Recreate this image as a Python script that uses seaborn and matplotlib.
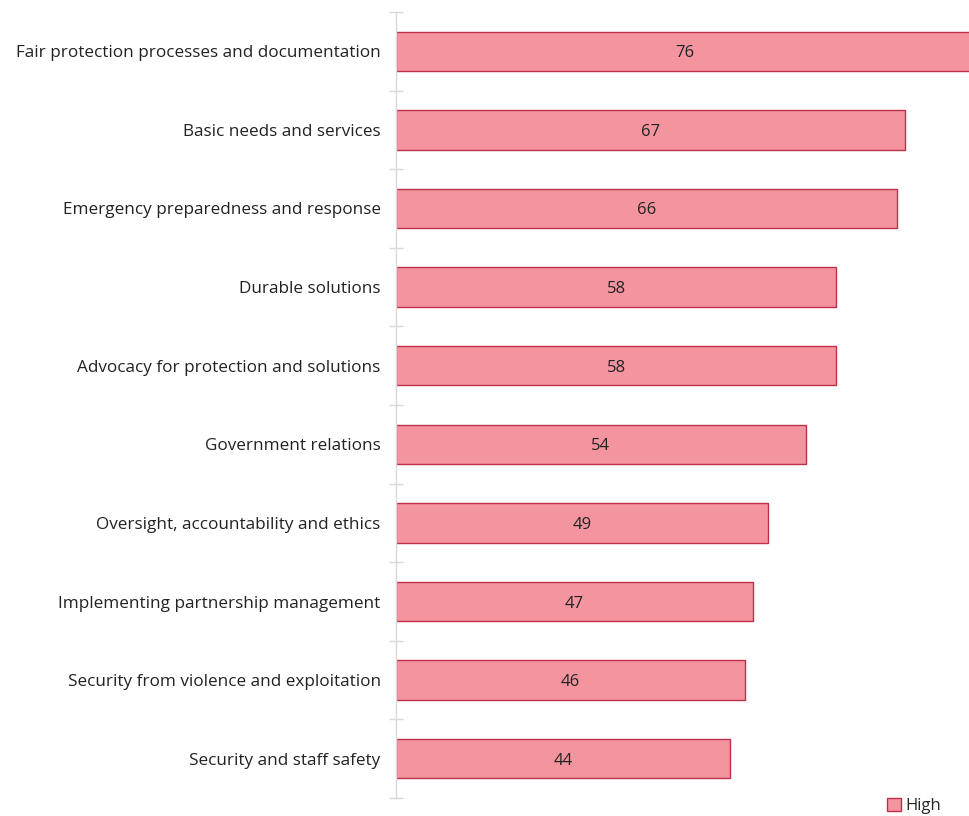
import matplotlib
matplotlib.use("Agg")
import matplotlib.pyplot as plt
import seaborn as sns
import pandas as pd
import numpy as np
from matplotlib.patches import Patch

categories = [
    "Fair protection processes and documentation",
    "Basic needs and services",
    "Emergency preparedness and response",
    "Durable solutions",
    "Advocacy for protection and solutions",
    "Government relations",
    "Oversight, accountability and ethics",
    "Implementing partnership management",
    "Security from violence and exploitation",
    "Security and staff safety",
]
values = [76, 67, 66, 58, 58, 54, 49, 47, 46, 44]
series_name = "High"

df = pd.DataFrame({"category": categories, "value": values})

sns.set_theme(style="white")
plt.rcParams["font.family"] = ["Open Sans", "DejaVu Sans"]

fig = plt.figure(figsize=(9.7, 8.16), dpi=100)
ax = fig.add_axes([396 / 970, 1 - 798 / 816, 1 - 396 / 970, (798 - 12) / 816])

face = "#F4949F"
edge = "#C0304A"
sns.barplot(data=df, x="value", y="category", orient="h", color=face,
            edgecolor=edge, linewidth=1.0, width=0.5, saturation=1, ax=ax)

for p, v in zip(ax.patches, values):
    ax.text(p.get_width() / 2, p.get_y() + p.get_height() / 2, str(v),
            ha="center", va="center_baseline", fontsize=12, color="#222222")

ax.set_xlim(0, 75.6)
ax.set_ylim(len(categories) - 0.5, -0.5)
ax.set_xlabel("")
ax.set_ylabel("")
ax.set_xticks([])
for s in ["top", "right", "bottom"]:
    ax.spines[s].set_visible(False)
ax.spines["left"].set_color("#d9d9d9")
ax.spines["left"].set_linewidth(1.0)

ax.tick_params(axis="y", which="major", left=False, length=0, pad=11, labelsize=12.3, labelcolor="#222222")
ax.set_yticks(np.arange(-0.5, len(categories) + 0.5, 1), minor=True)
ax.tick_params(axis="y", which="minor", left=True, length=10, direction="inout", color="#d9d9d9", width=1)
for lbl in ax.get_yticklabels():
    lbl.set_verticalalignment("center_baseline")

handle = Patch(facecolor=face, edgecolor=edge, linewidth=1.0)
fig.legend([handle], [series_name], loc="center right", bbox_to_anchor=(0.986, 1 - 806 / 816),
           frameon=False, fontsize=12, handlelength=0.8, handleheight=0.8, handletextpad=0.3)

fig.savefig("out.png", dpi=100)
